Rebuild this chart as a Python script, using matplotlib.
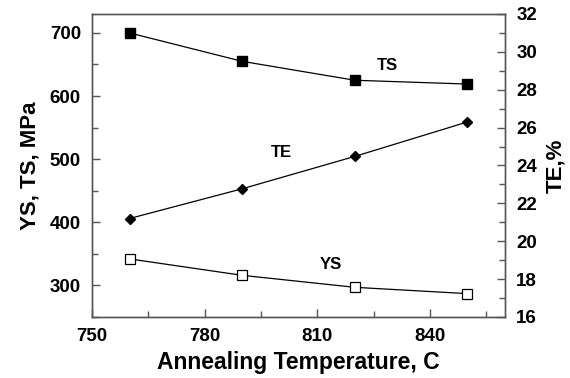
import numpy as np
import matplotlib
matplotlib.use("Agg")
import matplotlib.pyplot as plt
from matplotlib.ticker import MultipleLocator

plt.rcParams['font.family'] = ['Liberation Sans', 'DejaVu Sans']
plt.rcParams['font.weight'] = 'bold'

# data
temp = [760, 790, 820, 850]
ts = [700, 655, 625, 619]
ys = [342, 316, 297, 287]
te = [21.2, 22.77, 24.48, 26.3]

fig = plt.figure(figsize=(5.7, 3.78), dpi=100)
ax = fig.add_axes([0.1614, 0.1614, 0.7246, 0.8016])
ax2 = ax.twinx()

ax.plot(temp, ts, color='black', lw=0.9, marker='s', ms=7, mfc='black', mec='black')
ax.plot(temp, ys, color='black', lw=0.9, marker='s', ms=7, mfc='white', mec='black', mew=0.9)
ax2.plot(temp, te, color='black', lw=0.9, marker='D', ms=5, mfc='black', mec='black')

ax.set_xlim(750, 860)
ax.set_ylim(250, 730)
ax2.set_ylim(16, 32)

ax.xaxis.set_major_locator(MultipleLocator(30))
ax.xaxis.set_minor_locator(MultipleLocator(15))
ax.yaxis.set_major_locator(MultipleLocator(100))
ax.yaxis.set_minor_locator(MultipleLocator(50))
ax2.yaxis.set_major_locator(MultipleLocator(2))
ax2.yaxis.set_minor_locator(MultipleLocator(1))

for a in (ax, ax2):
    for s in a.spines.values():
        s.set_color('#555555')
        s.set_linewidth(1.0)
    a.tick_params(which='both', direction='in', color='#555555', width=1.0, labelsize=13.5, pad=8)
    a.tick_params(which='major', length=6)
    a.tick_params(which='minor', length=4)
ax.tick_params(axis='y', which='both', left=True, right=False)
ax2.tick_params(axis='y', which='both', right=True, left=False)
ax.tick_params(axis='x', which='both', top=False)

ax.set_xlabel('Annealing Temperature, C', fontsize=16.5, fontweight='bold', labelpad=4)
ax.set_ylabel('YS, TS, MPa', fontsize=16, fontweight='bold', labelpad=7)
ax2.set_ylabel('TE,%', fontsize=16, fontweight='bold', labelpad=6)

ax.text(828.8, 649, 'TS', fontsize=12, fontweight='bold', ha='center', va='center')
ax.text(800.5, 510, 'TE', fontsize=12, fontweight='bold', ha='center', va='center')
ax.text(813.5, 333, 'YS', fontsize=12, fontweight='bold', ha='center', va='center')

fig.savefig('out.png', dpi=100)
